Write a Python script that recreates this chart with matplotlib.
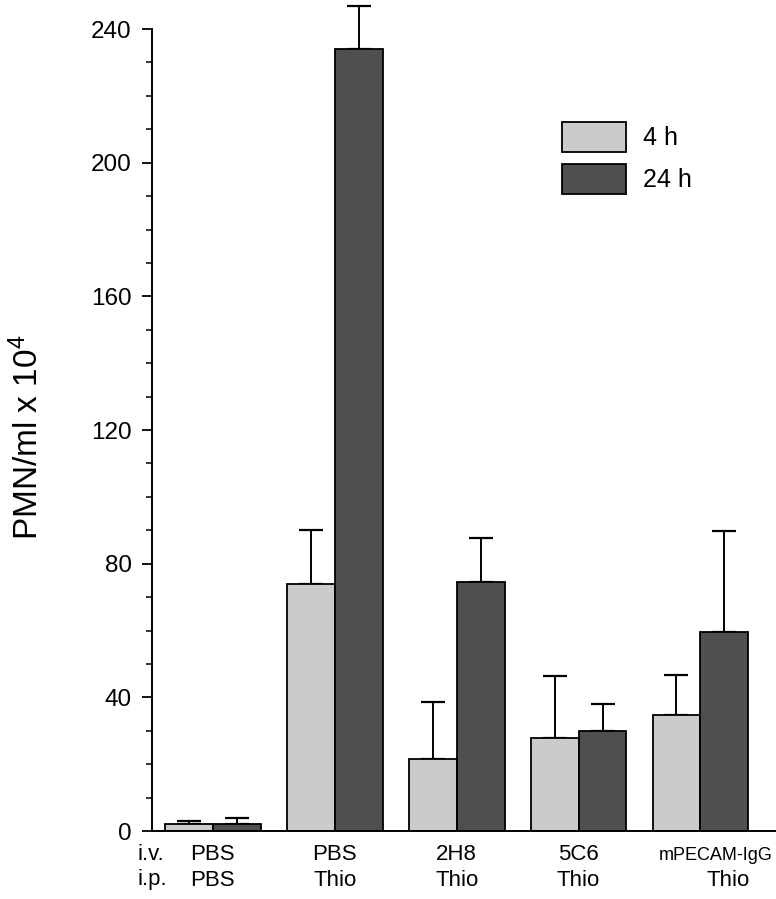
import matplotlib
matplotlib.use("Agg")
import matplotlib.pyplot as plt
import matplotlib.transforms as mtransforms
import numpy as np

plt.rcParams['font.family'] = ['Liberation Sans', 'DejaVu Sans']
plt.rcParams['mathtext.default'] = 'regular'

# ---- data ----
iv_labels = ["PBS", "PBS", "2H8", "5C6", "mPECAM-IgG"]
ip_labels = ["PBS", "Thio", "Thio", "Thio", "Thio"]
series_names = ["4 h", "24 h"]
vals_4h = [2.1, 74.0, 21.5, 27.8, 34.8]
err_4h = [1.0, 16.0, 17.0, 18.5, 12.0]
vals_24h = [2.0, 234.0, 74.6, 29.9, 59.6]
err_24h = [2.0, 13.0, 13.2, 8.1, 30.1]
yticks_major = [0, 40, 80, 120, 160, 200, 240]

# ---- layout ----
W, H = 776, 899
fig = plt.figure(figsize=(W / 100, H / 100), dpi=100)
ax = fig.add_axes([152 / W, (H - 831) / H, (W - 152) / W, 831 / H])

x = np.arange(len(iv_labels))
bw = 0.393
c4 = "#cbcbcb"
c24 = "#4f4f4f"

ax.bar(x - bw / 2, vals_4h, width=bw, color=c4, edgecolor="black",
       linewidth=1.3, label=series_names[0], zorder=2)
ax.bar(x + bw / 2, vals_24h, width=bw, color=c24, edgecolor="black",
       linewidth=1.3, label=series_names[1], zorder=2)

for xs, v, e in ((x - bw / 2, vals_4h, err_4h), (x + bw / 2, vals_24h, err_24h)):
    ax.errorbar(xs, v, yerr=[np.zeros(len(e)), e], fmt="none", ecolor="black",
                elinewidth=1.4, capsize=8.6, capthick=1.6, zorder=1,
                clip_on=False)

ax.set_xlim(-0.5, 4.62)
ax.set_ylim(0, 248.7)
ax.set_yticks(yticks_major)
ax.set_yticks(np.arange(0, 241, 10), minor=True)
ax.tick_params(axis="y", which="major", length=7.5, width=1.3, labelsize=17.5, pad=7)
ax.tick_params(axis="y", which="minor", length=4, width=1.1)
ax.set_xticks([])
for s in ("top", "right"):
    ax.spines[s].set_visible(False)
ax.spines["left"].set_bounds(0, 240)
ax.spines["left"].set_linewidth(1.4)
ax.spines["bottom"].set_linewidth(1.4)

ax.set_ylabel("PMN/ml x 10$^4$", fontsize=24)
ax.yaxis.set_label_coords(-0.171, 0.474)

# category labels
trans = mtransforms.blended_transform_factory(ax.transData, ax.transAxes)
label_pos = [0, 1, 2, 3, 4.23]
row1_y = (831 - 855) / 831
row2_y = (831 - 880) / 831

for p, a, b in zip(label_pos, iv_labels, ip_labels):
    if len(a) > 6:
        ax.text(4.595, row1_y, a, transform=trans, ha="right", va="center",
                fontsize=13)
    else:
        ax.text(p, row1_y, a, transform=trans, ha="center", va="center", fontsize=16)
    ax.text(p, row2_y, b, transform=trans, ha="center", va="center", fontsize=16)

ax.text(-0.62, row1_y, "i.v.", transform=trans, ha="left", va="center", fontsize=16)
ax.text(-0.62, row2_y, "i.p.", transform=trans, ha="left", va="center", fontsize=16)

ax.legend(loc="upper left", bbox_to_anchor=((562 - 152) / 624, (831 - 122) / 831),
          frameon=False, fontsize=18, handlelength=2.55, handleheight=1.45,
          handletextpad=0.7, labelspacing=0.5, borderpad=0, borderaxespad=0)

fig.savefig("out.png", dpi=100)
